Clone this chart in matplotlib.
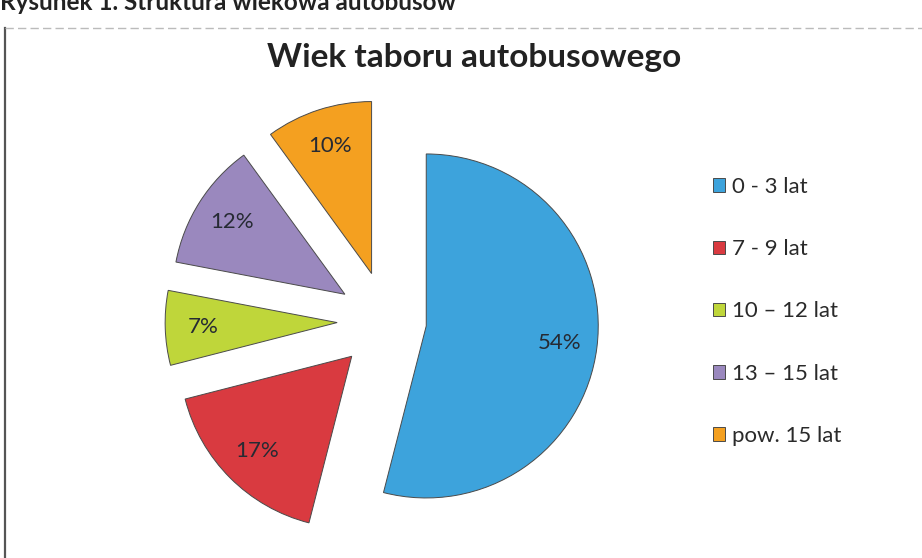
import matplotlib
matplotlib.use("Agg")
import matplotlib.pyplot as plt
from matplotlib.lines import Line2D

# data
categories = ["0 - 3 lat", "7 - 9 lat", "10 \u2013 12 lat", "13 \u2013 15 lat", "pow. 15 lat"]
shares = [54, 17, 7, 12, 10]
colors = ["#3DA3DC", "#D93A40", "#BFD63A", "#9A88BE", "#F4A020"]
explode_frac = [0.23, 0.29, 0.29, 0.29, 0.29]  # fraction of the radius

plt.rcParams["font.family"] = ["Lato", "DejaVu Sans"]

W, H = 922, 558
R = 172  # pie radius in pixels
fig = plt.figure(figsize=(W / 100, H / 100), dpi=100)
# one axes over the whole figure, in pixel units
ax = fig.add_axes([0, 0, 1, 1])

# matplotlib takes explode in data units, so scale by the radius
wedges, texts, autotexts = ax.pie(
    shares, colors=colors, explode=[e * R for e in explode_frac],
    startangle=90, counterclock=False, center=(387, H - 321), radius=R,
    autopct="%.0f%%", pctdistance=0.78,
    wedgeprops=dict(edgecolor="#4a4a4a", linewidth=0.7),
    textprops=dict(fontsize=16, color="#262a33"), frame=True)
ax.set_xlim(0, W)
ax.set_ylim(0, H)
ax.set_aspect("equal")
ax.axis("off")

# chart box border (left and top only are visible)
ax.add_line(Line2D([5, 5], [0, H - 28], color="#555555", lw=1.6))
ax.add_line(Line2D([5, W], [H - 28, H - 28], color="#bbbbbb", lw=1.0,
                   linestyle=(0, (6, 3))))

# caption cut by the top edge
fig.text(0.0, (H - 10) / H, "Rysunek 1. Struktura wiekowa autobus\u00f3w",
         fontsize=17.5, fontweight="bold", color="#222222",
         ha="left", va="baseline")

fig.text(474 / W, 1 - 58 / H, "Wiek taboru autobusowego",
         fontsize=24, fontweight="bold", color="#222222",
         ha="center", va="center")

ax.legend(wedges, categories, loc="upper left",
          bbox_to_anchor=(693 / W, 1 - 157 / H), frameon=False,
          fontsize=16, labelspacing=1.9, handlelength=0.55,
          handleheight=0.55, handletextpad=0.3, labelcolor="#2a2a2a")

fig.savefig("out.png", dpi=100)
